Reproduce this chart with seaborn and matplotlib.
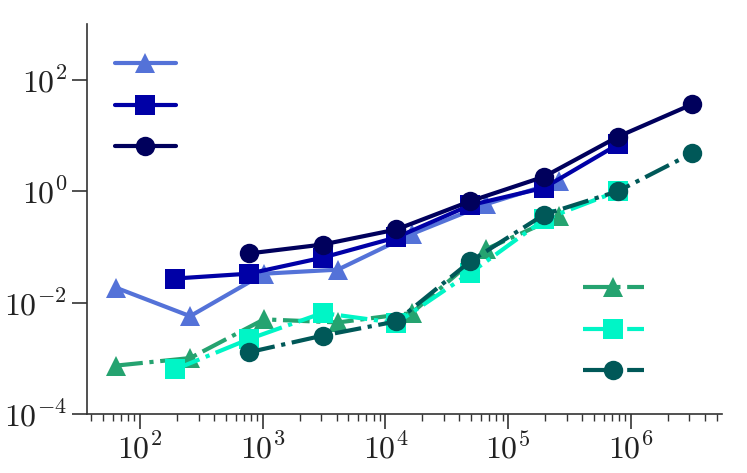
import numpy as np
import pandas as pd
import matplotlib
matplotlib.use("Agg")
import matplotlib.pyplot as plt
import matplotlib.ticker as mticker
import seaborn as sns

# x positions (problem sizes)
x_tri = [64, 256, 1024, 4096, 16384, 65536, 262144]
x_sq = [192, 768, 3072, 12288, 49152, 196608, 786432]
x_circ = [768, 3072, 12288, 49152, 196608, 786432, 3145728]

# solid series (blue family)
blue_tri = [0.0184, 0.0057, 0.033, 0.039, 0.17, 0.58, 1.5]
blue_sq = [0.027, 0.033, 0.064, 0.148, 0.56, 1.15, 6.9]
blue_circ = [0.076, 0.110, 0.205, 0.66, 1.82, 9.5, 36.0]

# dash-dot series (green family)
green_tri = [0.00074, 0.00101, 0.0050, 0.0044, 0.0065, 0.090, 0.356]
green_sq = [0.00063, 0.0022, 0.0065, 0.0043, 0.034, 0.31, 1.0]
green_circ = [0.00128, 0.00255, 0.0046, 0.055, 0.38, 1.0, 4.76]

series = [
    ("b_tri", x_tri, blue_tri, "^", "#5472d8", "-"),
    ("b_sq", x_sq, blue_sq, "s", "#0000a6", "-"),
    ("b_circ", x_circ, blue_circ, "o", "#00005c", "-"),
    ("g_tri", x_tri, green_tri, "^", "#25a370", "-."),
    ("g_sq", x_sq, green_sq, "s", "#00f5c6", "-."),
    ("g_circ", x_circ, green_circ, "o", "#005858", "-."),
]

sns.set_style("ticks")
plt.rcParams["font.family"] = ["DejaVu Serif"]
plt.rcParams["mathtext.fontset"] = "cm"

fig = plt.figure(figsize=(7.47, 4.73), dpi=100)
ax = fig.add_axes([0.1169, 0.1247, 0.8492, 0.8246])

handles = []
for name, xs, ys, mk, col, ls in series:
    df = pd.DataFrame({"x": xs, "y": ys})
    sns.lineplot(data=df, x="x", y="y", ax=ax, marker=mk, markersize=14,
                 color=col, linestyle=ls, linewidth=3, markeredgewidth=0,
                 legend=False)
    handles.append(ax.lines[-1])

ax.set_xscale("log")
ax.set_yscale("log")
ax.set_xlim(37.2, 5.5e6)
ax.set_ylim(1e-4, 1e3)
ax.set_yticks([1e-4, 1e-2, 1, 1e2])
ax.yaxis.set_minor_locator(mticker.NullLocator())
ax.xaxis.set_major_locator(mticker.LogLocator(base=10, numticks=20))
ax.xaxis.set_minor_locator(mticker.LogLocator(base=10, subs=np.arange(2, 10), numticks=20))
pow_fmt = mticker.FuncFormatter(lambda v, p: r"$10^{%d}$" % int(round(np.log10(v))))
ax.xaxis.set_major_formatter(pow_fmt)
ax.yaxis.set_major_formatter(pow_fmt)
ax.set_xlabel("")
ax.set_ylabel("")
ax.tick_params(which="major", length=11, width=1.2, labelsize=23, color="#333333",
               labelcolor="#222222")
ax.tick_params(which="minor", length=5, width=1.0, color="#333333")
for s in ["left", "bottom"]:
    ax.spines[s].set_linewidth(1.2)
    ax.spines[s].set_color("#333333")
sns.despine(ax=ax)

leg1 = ax.legend(handles[:3], [""] * 3, loc="upper left", frameon=False, fontsize=22,
                 labelspacing=0.35, bbox_to_anchor=(0.0, 1.005))
ax.add_artist(leg1)
ax.legend(handles[3:], [""] * 3, loc="lower right", frameon=False, fontsize=22,
          labelspacing=0.35, bbox_to_anchor=(0.959, -0.004))

fig.savefig("out.png", dpi=100)
